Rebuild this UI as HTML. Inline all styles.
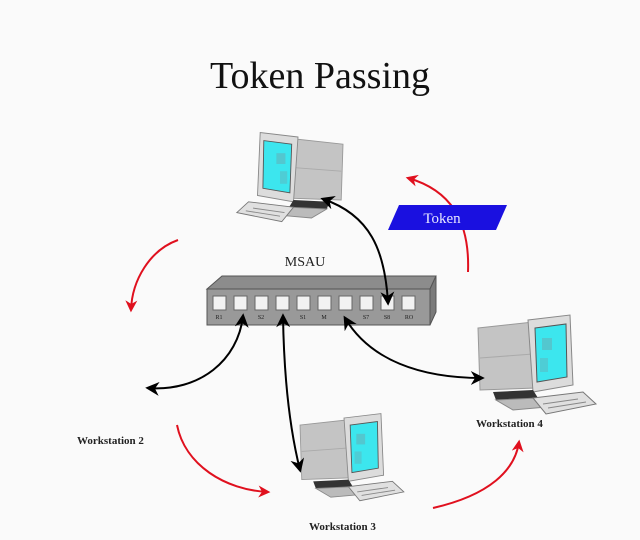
<!DOCTYPE html>
<html><head><meta charset="utf-8"><style>
html,body{margin:0;padding:0;background:#fafafa;}
svg{display:block}
text{font-family:"Liberation Serif",serif;}
</style></head><body>
<svg width="640" height="540" viewBox="0 0 640 540" xmlns="http://www.w3.org/2000/svg">
<defs>
<marker id="ab" viewBox="0 0 10 10" refX="8" refY="5" markerWidth="7" markerHeight="7" orient="auto-start-reverse"><path d="M0,0 L10,5 L0,10 L3,5 z" fill="#000"/></marker>
<marker id="ar" viewBox="0 0 10 10" refX="8" refY="5" markerWidth="6" markerHeight="6" orient="auto"><path d="M0,0 L10,5 L0,10 L3,5 z" fill="#e0101e"/></marker>
<g id="pc">
<polygon points="0,8 55,2 58,68 2,70" fill="#c4c4c4" stroke="#999"/>
<line x1="2" y1="38" x2="55" y2="34" stroke="#aaa"/>
<polygon points="50,0 92,-5 95,65 55,72" fill="#dcdcdc" stroke="#888"/>
<polygon points="57,8 88,4 89,57 59,62" fill="#3ce6ee" stroke="#555"/>
<rect x="64" y="18" width="10" height="12" fill="#6aa8b0" opacity="0.5"/>
<rect x="62" y="38" width="8" height="14" fill="#6aa8b0" opacity="0.4"/>
<polygon points="15,72 55,70 60,78 18,80" fill="#333"/>
<polygon points="18,80 60,78 80,86 35,90" fill="#bbb" stroke="#888"/>
<polygon points="55,78 105,72 118,84 68,94" fill="#e0e0e0" stroke="#777"/>
<path d="M65,84 L100,79 M70,88 L108,82" stroke="#888" fill="none"/>
</g>
</defs>
<text x="320" y="88" font-size="38" text-anchor="middle" fill="#111">Token Passing</text>

<use href="#pc" transform="translate(343,137) scale(-0.9,0.9)"/>
<use href="#pc" transform="translate(478,320)"/>
<use href="#pc" transform="translate(300,418) scale(0.88)"/>

<!-- red arrows -->
<g stroke="#e0101e" stroke-width="2" fill="none">
<path d="M468,272 C470,220 450,190 408,178" marker-end="url(#ar)"/>
<path d="M178,240 C150,250 132,280 131,310" marker-end="url(#ar)"/>
<path d="M177,425 C185,465 225,490 268,492" marker-end="url(#ar)"/>
<path d="M433,508 C490,495 515,470 519,442" marker-end="url(#ar)"/>
</g>

<!-- MSAU -->
<text x="305" y="266" font-size="14" text-anchor="middle" fill="#222">MSAU</text>
<polygon points="207,289 222,276 436,276 430,289" fill="#8c8c8c" stroke="#555"/>
<polygon points="430,289 436,276 436,312 430,325" fill="#7a7a7a" stroke="#555"/>
<rect x="207" y="289" width="223" height="36" fill="#999" stroke="#555"/>
<g fill="#f2f2f2" stroke="#666">
<rect x="213" y="296" width="13" height="14"/><rect x="234" y="296" width="13" height="14"/>
<rect x="255" y="296" width="13" height="14"/><rect x="276" y="296" width="13" height="14"/>
<rect x="297" y="296" width="13" height="14"/><rect x="318" y="296" width="13" height="14"/>
<rect x="339" y="296" width="13" height="14"/><rect x="360" y="296" width="13" height="14"/>
<rect x="381" y="296" width="13" height="14"/><rect x="402" y="296" width="13" height="14"/>
</g>
<g font-size="6" fill="#222" text-anchor="middle">
<text x="219" y="319">R1</text><text x="261" y="319">S2</text><text x="303" y="319">S1</text><text x="324" y="319">M</text><text x="366" y="319">S7</text><text x="387" y="319">S8</text><text x="409" y="319">RO</text>
</g>

<!-- Token -->
<polygon points="399,205 507,205 496,230 388,230" fill="#1a10e0"/>
<text x="442" y="223" font-size="15" fill="#e8e8ff" text-anchor="middle">Token</text>

<!-- black links -->
<g stroke="#000" stroke-width="2" fill="none">
<path d="M323,199 C370,215 385,250 388,303" marker-start="url(#ab)" marker-end="url(#ab)"/>
<path d="M243,316 C238,360 200,392 148,388" marker-start="url(#ab)" marker-end="url(#ab)"/>
<path d="M283,316 C284,380 290,430 300,470" marker-start="url(#ab)" marker-end="url(#ab)"/>
<path d="M345,318 C370,360 420,378 482,378" marker-start="url(#ab)" marker-end="url(#ab)"/>
</g>

<g font-size="11" fill="#222" font-weight="bold">
<text x="77" y="444">Workstation 2</text>
<text x="476" y="427">Workstation 4</text>
<text x="309" y="530">Workstation 3</text>
</g>
</svg>
</body></html>
